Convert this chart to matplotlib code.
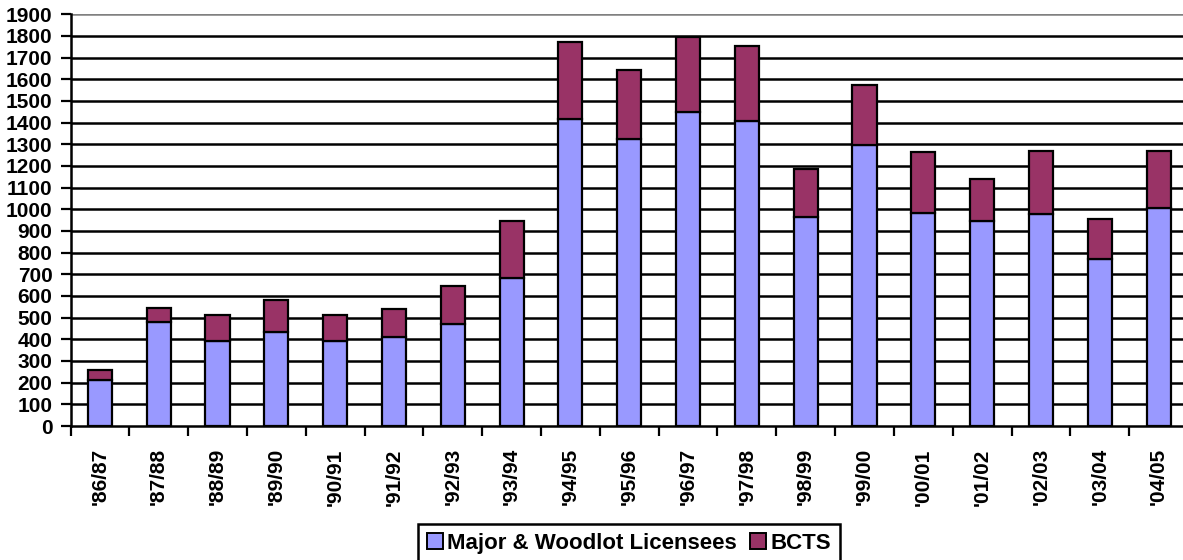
import matplotlib
matplotlib.use("Agg")
import matplotlib.pyplot as plt
from matplotlib.patches import Patch
import numpy as np

categories = ["'86/87", "'87/88", "'88/89", "'89/90", "'90/91", "'91/92", "'92/93",
              "'93/94", "'94/95", "'95/96", "'96/97", "'97/98", "'98/99", "'99/00",
              "'00/01", "'01/02", "'02/03", "'03/04", "'04/05"]
major_woodlot = [212, 482, 394, 435, 394, 409, 471, 682, 1418, 1323, 1451, 1408,
                 963, 1295, 985, 945, 980, 772, 1005]
totals = [258, 543, 512, 582, 512, 538, 646, 946, 1772, 1642, 1794, 1754,
          1188, 1572, 1265, 1142, 1271, 957, 1271]
bcts = [t - m for t, m in zip(totals, major_woodlot)]
yticks = list(range(0, 2000, 100))
series_names = ["Major & Woodlot Licensees", "BCTS"]

blue = "#9999FF"
purple = "#993366"

plt.rcParams['font.family'] = ['Liberation Sans', 'DejaVu Sans']
plt.rcParams['font.weight'] = 'bold'

fig = plt.figure(figsize=(11.83, 5.60), dpi=100)
ax = fig.add_axes([70.5 / 1183, 134 / 560, (1188 - 70.5) / 1183, (545.7 - 134) / 560])

x = np.arange(len(categories))
w = 0.41
ax.bar(x, major_woodlot, w, color=blue, edgecolor="black", linewidth=1.6, zorder=3)
ax.bar(x, bcts, w, bottom=major_woodlot, color=purple, edgecolor="black", linewidth=1.6, zorder=3)

ax.set_xlim(-0.5, len(categories) - 0.5)
ax.set_ylim(0, 1900)
ax.set_yticks(yticks)
ax.set_yticklabels([str(v) for v in yticks], fontsize=15, fontweight='bold')
for v in yticks[1:-1]:
    ax.axhline(v, color="black", linewidth=1.8, zorder=1)
ax.axhline(1900, color="#808080", linewidth=1.8, zorder=1)

ax.set_xticks(np.arange(len(categories) + 1) - 0.5)
ax.set_xticklabels([])
ax.set_xticks(x, minor=True)
ax.set_xticklabels(categories, minor=True, rotation=90, fontsize=15, fontweight='bold')
ax.tick_params(axis='x', which='major', length=7, width=1.6, direction='out')
ax.tick_params(axis='x', which='minor', length=0, pad=16)
ax.tick_params(axis='y', length=7, width=1.6, direction='out', pad=6)

for s in ["top", "right"]:
    ax.spines[s].set_visible(False)
ax.spines["left"].set_linewidth(1.8)
ax.spines["bottom"].set_linewidth(1.8)
ax.spines["left"].set_zorder(4)
ax.spines["bottom"].set_zorder(4)

handles = [Patch(facecolor=blue, edgecolor="black", linewidth=1.4),
           Patch(facecolor=purple, edgecolor="black", linewidth=1.4)]
leg = fig.legend(handles, series_names, loc="upper center", bbox_to_anchor=(629 / 1183, 1 - 524 / 560),
                 ncol=2, frameon=True, fancybox=False, edgecolor="black", framealpha=1,
                 prop={'size': 16, 'weight': 'bold'}, handlelength=0.7, handleheight=0.7,
                 handletextpad=0.2, columnspacing=0.6, borderpad=0.4, borderaxespad=0)
leg.get_frame().set_linewidth(1.8)

fig.savefig("out.png", dpi=100)
